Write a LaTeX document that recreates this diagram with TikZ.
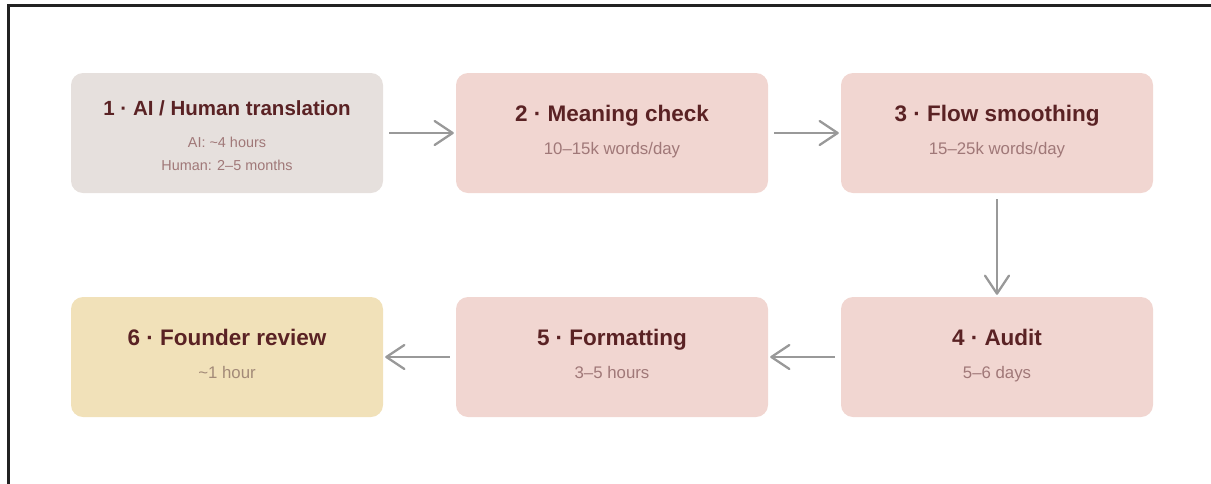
\documentclass[tikz,border=0pt]{standalone}
\usepackage{fontspec}
\setmainfont{Liberation Sans}
\usetikzlibrary{arrows.meta}
\definecolor{greyfill}{HTML}{E6E0DD}
\definecolor{pinkfill}{HTML}{F1D6D1}
\definecolor{yellowfill}{HTML}{F1E1B9}
\definecolor{titlecol}{HTML}{5A2224}
\definecolor{subcol}{HTML}{A07878}
\definecolor{subyel}{HTML}{A38A78}
\definecolor{arrcol}{HTML}{999999}
\definecolor{framecol}{HTML}{222222}
\tikzset{
  stage/.style={rectangle, rounded corners=12pt, minimum width=312pt, minimum height=120pt, inner sep=0pt, draw=none},
  ttl/.style={anchor=base, inner sep=0pt, text=titlecol, font=\fontsize{22.5}{27}\selectfont\bfseries},
  ttlsmall/.style={anchor=base, inner sep=0pt, text=titlecol, font=\fontsize{20.5}{24}\selectfont\bfseries},
  sub/.style={anchor=base, inner sep=0pt, text=subcol, font=\fontsize{16.8}{20}\selectfont},
  subsmall/.style={anchor=base, inner sep=0pt, text=subcol, font=\fontsize{14.4}{17}\selectfont},
  arr/.style={draw=arrcol, line width=2.3pt, shorten <=6pt, shorten >=2pt,
    -{Straight Barb[length=18pt,width=24pt,line cap=round,line join=round]}},
}
\begin{document}
\begin{tikzpicture}[x=1pt,y=-1pt]
\useasboundingbox (0,0) rectangle (1211,483);
\draw[framecol, line width=3pt] (1212,5) -- (8,5) -- (8,484);
% boxes
\node[stage, fill=greyfill]   (b1) at (227,133) {};
\node[stage, fill=pinkfill]   (b2) at (612,133) {};
\node[stage, fill=pinkfill]   (b3) at (997,133) {};
\node[stage, fill=pinkfill]   (b4) at (997,357) {};
\node[stage, fill=pinkfill]   (b5) at (612,357) {};
\node[stage, fill=yellowfill] (b6) at (227,357) {};
% texts
\node[ttlsmall] (t1) at (227,115) {1 · AI / Human translation};
\node[subsmall] (s1a) at (227,147) {AI: \textasciitilde 4 hours};
\node[subsmall] (s1b) at (227,170) {Human: 2–5 months};
\node[ttl] (t2) at (612,121) {2 · Meaning check};
\node[sub] (s2) at (612,154) {10–15k words/day};
\node[ttl] (t3) at (997,121) {3 · Flow smoothing};
\node[sub] (s3) at (997,154) {15–25k words/day};
\node[ttl] (t4) at (997,345) {4 · Audit};
\node[sub] (s4) at (997,378) {5–6 days};
\node[ttl] (t5) at (612,345) {5 · Formatting};
\node[sub] (s5) at (612,378) {3–5 hours};
\node[ttl] (t6) at (227,345) {6 · Founder review};
\node[sub, text=subyel] (s6) at (227,378) {\textasciitilde 1 hour};
% arrows
\draw[arr] (b1.east) -- (b2.west);
\draw[arr] (b2.east) -- (b3.west);
\draw[arr] (b3.south) -- (b4.north);
\draw[arr] (b4.west) -- (b5.east);
\draw[arr] (b5.west) -- (b6.east);
\end{tikzpicture}
\end{document}
